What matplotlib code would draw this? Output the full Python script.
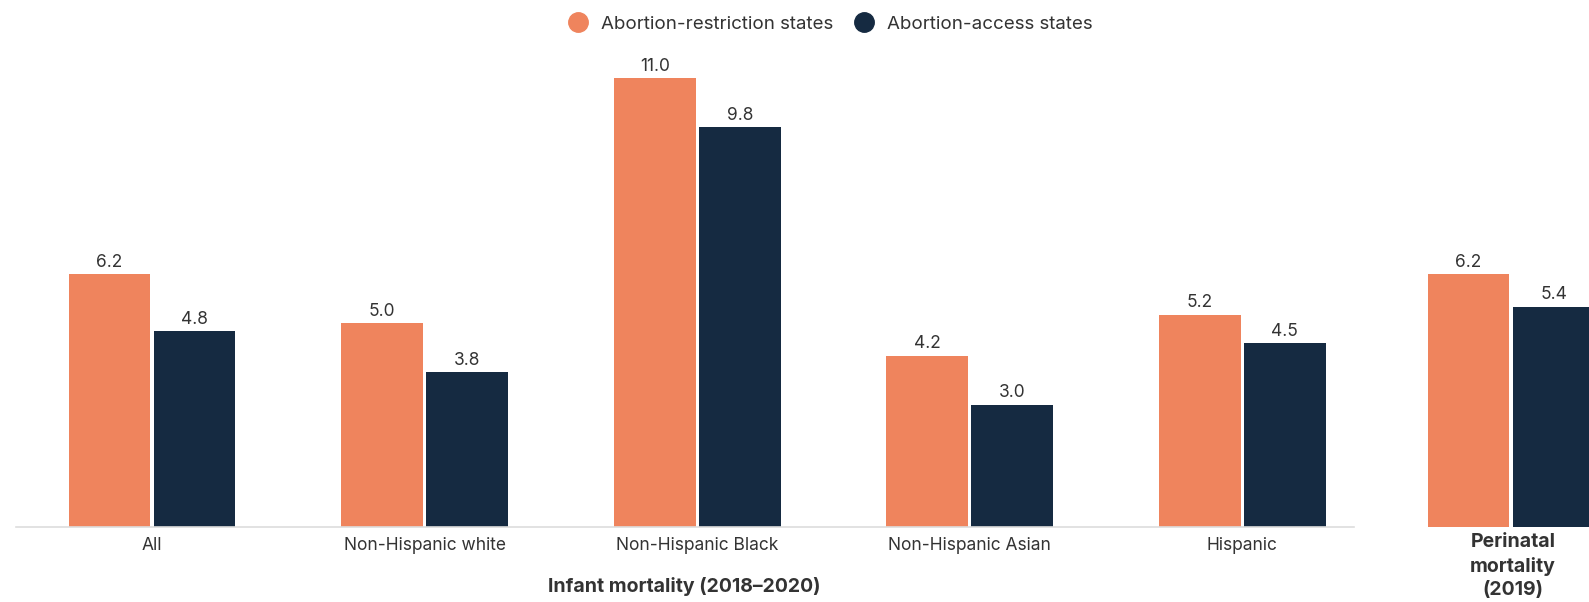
import matplotlib
matplotlib.use("Agg")
import matplotlib.pyplot as plt
from matplotlib.lines import Line2D

plt.rcParams['font.family'] = ['Inter', 'DejaVu Sans']

categories = ["All", "Non-Hispanic white", "Non-Hispanic Black", "Non-Hispanic Asian", "Hispanic"]
restriction = [6.2, 5.0, 11.0, 4.2, 5.2]
access = [4.8, 3.8, 9.8, 3.0, 4.5]
peri_label = "Perinatal\nmortality\n(2019)"
peri_restriction = [6.2]
peri_access = [5.4]
series_names = ["Abortion-restriction states", "Abortion-access states"]
group_title = "Infant mortality (2018–2020)"

ORANGE = "#EF845D"
NAVY = "#152A41"
TXT = "#333333"

W, H = 1589, 602
fig = plt.figure(figsize=(W / 100, H / 100), dpi=100)

base_y = 527
top_y = 78
ymax_data = 11.0
px_per_unit = (base_y - top_y) / ymax_data
ax_h_px = base_y - 10
ylim_top = ax_h_px / px_per_unit

spacing = 272.6
bw = 0.30
gap = 0.006
VAL_FS = 12.5
TICK_FS = 12.5
BOLD_FS = 14

# left axes
x0_px = 152 - 0.5 * spacing
x1_px = 152 + 4.41 * spacing
ax = fig.add_axes([x0_px / W, (H - base_y) / H, (x1_px - x0_px) / W, ax_h_px / H])
xs = list(range(len(categories)))
b1 = ax.bar([x - bw / 2 - gap for x in xs], restriction, width=bw, color=ORANGE)
b2 = ax.bar([x + bw / 2 + gap for x in xs], access, width=bw, color=NAVY)
for bars, vals in ((b1, restriction), (b2, access)):
    for r, v in zip(bars, vals):
        ax.text(r.get_x() + r.get_width() / 2, v + 0.08, f"{v:.1f}", ha="center", va="bottom",
                fontsize=VAL_FS, color=TXT)
ax.set_xlim(-0.5, 4.41)
ax.set_ylim(0, ylim_top)
ax.set_xticks(xs)
ax.set_xticklabels(categories, fontsize=TICK_FS, color=TXT)
ax.tick_params(axis="x", length=0, pad=7)
ax.set_yticks([])
for s in ("top", "right", "left"):
    ax.spines[s].set_visible(False)
ax.spines["bottom"].set_color("#DDDDDD")
ax.spines["bottom"].set_linewidth(1.2)
fig.text(684 / W, 1 - 587 / H, group_title, ha="center", va="center",
         fontsize=BOLD_FS, fontweight="bold", color=TXT)

# right axes (perinatal)
c_px = 1511
ax2 = fig.add_axes([(c_px - 0.5 * spacing) / W, (H - base_y) / H, spacing / W, ax_h_px / H])
p1 = ax2.bar([-bw / 2 - gap], peri_restriction, width=bw, color=ORANGE)
p2 = ax2.bar([bw / 2 + gap], peri_access, width=bw, color=NAVY)
for bars, vals in ((p1, peri_restriction), (p2, peri_access)):
    for r, v in zip(bars, vals):
        ax2.text(r.get_x() + r.get_width() / 2, v + 0.08, f"{v:.1f}", ha="center", va="bottom",
                 fontsize=VAL_FS, color=TXT)
ax2.set_xlim(-0.5, 0.5)
ax2.set_ylim(0, ylim_top)
ax2.set_xticks([])
ax2.set_yticks([])
for s in ("top", "right", "left", "bottom"):
    ax2.spines[s].set_visible(False)
fig.text(1513 / W, 1 - 566 / H, peri_label, ha="center", va="center", fontsize=BOLD_FS,
         fontweight="bold", color=TXT, linespacing=1.35)

handles = [Line2D([], [], marker="o", linestyle="none", markersize=14, color=ORANGE),
           Line2D([], [], marker="o", linestyle="none", markersize=14, color=NAVY)]
fig.legend(handles, series_names, loc="center", bbox_to_anchor=(826 / W, 1 - 24 / H), ncol=2,
           frameon=False, fontsize=13.5, handletextpad=0.25, columnspacing=0.6, labelcolor=TXT)

fig.savefig("out.png", dpi=100)
